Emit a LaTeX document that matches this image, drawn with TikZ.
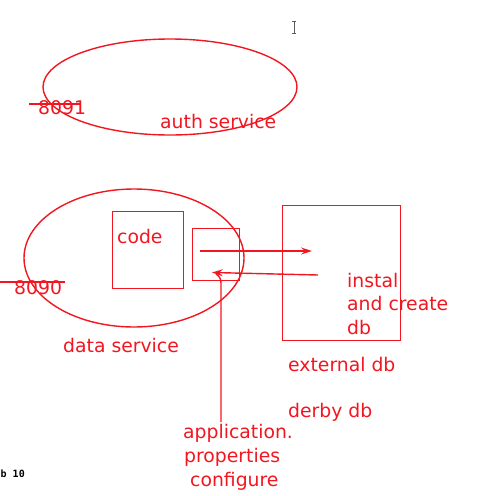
\documentclass[tikz,border=0pt]{standalone}
\usepackage{fontspec}
\setmainfont{DejaVu Sans}
\newfontfamily\monob{DejaVu Sans Mono}
\usetikzlibrary{arrows.meta}
\definecolor{ink}{RGB}{242,22,32}
\begin{document}
\begin{tikzpicture}[x=1pt,y=-1pt,
  pen/.style={draw=ink,line width=1.4pt},
  lbl/.style={text=ink,font=\fontsize{18.8}{22}\selectfont,inner sep=0pt,anchor=base west},
  arr/.style={pen,-{Stealth[length=11pt,width=7pt,inset=4pt]}}]
\useasboundingbox (0,0) rectangle (477,496);
% auth service
\draw[pen] (170,87) ellipse [x radius=127,y radius=48];
\node[lbl] (p8091) at (38,114) {8091};
\coordinate (s1a) at (29,104);
\coordinate (s1b) at (80,104);
\draw[pen] (s1a) -- (s1b);
\node[lbl] (auth) at (160,128) {auth service};
% cursor
\draw[gray!70!black,line width=0.8pt] (292,21) -- (296,21) (294,21) -- (294,33) (292,33) -- (296,33);
% data service
\draw[pen] (134,258) ellipse [x radius=110,y radius=69];
\node[pen,minimum width=71pt,minimum height=77pt,inner sep=0pt,anchor=north west] (code) at (111.5,211) {};
\node[lbl] (codet) at (117,243) {code};
\node[pen,minimum width=47pt,minimum height=52pt,inner sep=0pt,anchor=north west] (cfg) at (192,228) {};
\node[lbl] (p8090) at (14,294) {8090};
\coordinate (s2a) at (0,282);
\coordinate (s2b) at (65,282);
\draw[pen] (s2a) -- (s2b);
\node[lbl] (data) at (63,352) {data service};
% external db
\node[pen,minimum width=118pt,minimum height=135pt,inner sep=0pt,anchor=north west] (ext) at (282,204.5) {};
\node[lbl] (i1) at (347,287) {instal};
\node[lbl] (i2) at (347,310.5) {and create};
\node[lbl] (i3) at (347,334) {db};
\node[lbl] (extt) at (288,371) {external db};
\node[lbl] (derby) at (288,417) {derby db};
% arrows
\coordinate (a1s) at (200,251);
\coordinate (a1e) at (312,251);
\draw[arr] (a1s) -- (a1e);
\coordinate (a2s) at (318,275);
\coordinate (a2e) at (212,272.5);
\draw[arr] (a2s) -- (a2e);
% application properties
\node[lbl] (app1) at (183,438) {application.};
\node[lbl] (app2) at (184,462) {properties};
\node[lbl] (app3) at (190,486) {configure};
\coordinate (vb) at (221,422);
\coordinate (vt) at (221,283);
\draw[pen] (vb) -- (vt) to[out=90,in=-30] (216,274);
% corner text
\node[font=\monob\bfseries\fontsize{10}{11}\selectfont,inner sep=0pt,anchor=base west] (tab) at (0.5,477) {b 10};
\end{tikzpicture}
\end{document}
